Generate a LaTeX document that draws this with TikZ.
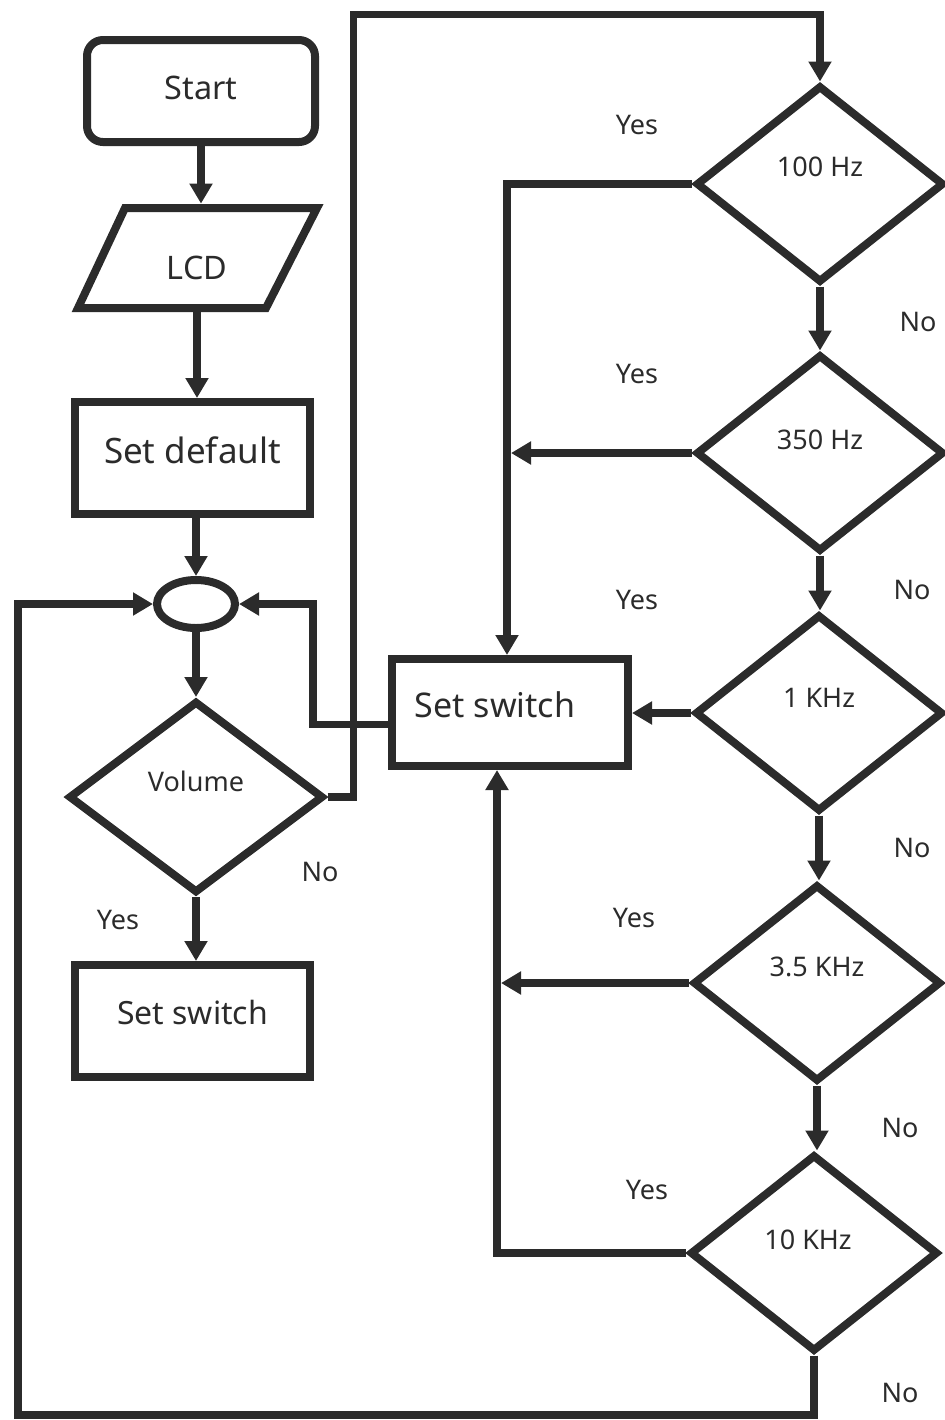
\documentclass[tikz,border=0pt]{standalone}
\usepackage{fontspec}
\setmainfont{Noto Sans}
\usetikzlibrary{shapes.geometric,arrows.meta,calc}
\definecolor{ink}{HTML}{2B2B2B}
\newcommand\liftt[2]{\raisebox{#1}[\height][\depth]{#2}}
\begin{document}
\begin{tikzpicture}[x=0.5pt,y=-0.5pt,
  shp/.style={draw=ink, line width=4pt, text=ink, inner sep=0pt},
  box/.style={shp, rectangle, minimum width=117.5pt, minimum height=56pt, font=\fontsize{17pt}{20pt}\selectfont},
  dec/.style={shp, diamond, minimum width=124pt, minimum height=98.5pt, font=\fontsize{13.5pt}{16pt}\selectfont},
  conn/.style={draw=ink, line width=3.6pt, -{Triangle[width=11pt,length=10pt]}},
  lbl/.style={text=ink, font=\fontsize{13.5pt}{16pt}\selectfont, inner sep=0pt}]
\useasboundingbox (0,0) rectangle (945,1420);

% left column
\node[shp, rectangle, rounded corners=8pt, minimum width=114pt, minimum height=51pt,
      font=\fontsize{16.2pt}{19pt}\selectfont] (start) at (201,91) {\liftt{1.5pt}{Start}};
\node[text=ink, inner sep=0pt, minimum width=120pt, minimum height=54pt,
      font=\fontsize{16.2pt}{19pt}\selectfont] (lcd) at (197,258) {\liftt{-5pt}{LCD}};
\draw[draw=ink, line width=4pt] ($(lcd.center)+(-72,-50)$) -- ($(lcd.center)+(120,-50)$)
   -- ($(lcd.center)+(69,50)$) -- ($(lcd.center)+(-119,50)$) -- cycle;
\node[box, font=\fontsize{17.5pt}{20pt}\selectfont] (sd) at (192.5,458) {\liftt{4pt}{Set default}};
\node[shp, ellipse, minimum width=39pt, minimum height=24pt] (circ) at (196,604) {};
\node[dec, minimum width=127.5pt, minimum height=96pt] (vol) at (196,797) {\liftt{8pt}{Volume}};
\node[box, font=\fontsize{16pt}{19pt}\selectfont] (ss2) at (192.5,1021) {\liftt{4.5pt}{Set switch}};

% middle box
\node[box, minimum width=118pt, minimum height=53.5pt] (ss1) at (510,712.5) {\liftt{4pt}{Set switch}\hspace*{15pt}};

% right column
\node[dec] (f100) at (820,184) {\liftt{8.5pt}{100 Hz}};
\node[dec] (f350) at (820,453) {\liftt{6.5pt}{350 Hz}};
\node[dec] (f1k)  at (819,713) {\liftt{7.5pt}{1 KHz}};
\node[dec] (f35k) at (817,983) {\liftt{8pt}{3.5 KHz}};
\node[dec] (f10k) at (814,1253) {\liftt{6.5pt}{10 KHz}\hspace*{6pt}};

% labels
\node[lbl] (y1) at (637,125) {Yes};
\node[lbl] (n1) at (918,322) {No};
\node[lbl] (y2) at (637,374) {Yes};
\node[lbl] (n2) at (912,590) {No};
\node[lbl] (y3) at (637,600) {Yes};
\node[lbl] (n3) at (912,848) {No};
\node[lbl] (y4) at (634,918) {Yes};
\node[lbl] (n4) at (900,1128) {No};
\node[lbl] (y5) at (647,1190) {Yes};
\node[lbl] (n5) at (900,1393) {No};
\node[lbl] (nv) at (320,872) {No};
\node[lbl] (yv) at (118,920) {Yes};

% left column connectors
\draw[conn] (start.south) -- (start.south |- lcd.north);
\draw[conn] (lcd.south) -- (lcd.south |- sd.north);
\draw[conn] (circ |- sd.south) -- (circ.north);
\draw[conn] (circ.south) -- (vol.north);
\draw[conn] (vol.south) -- (vol.south |- ss2.north);

% Volume No -> 100 Hz
\draw[conn] (vol.east) -- ++(26,0) |- ($(f100.north)+(0,-67)$) -- (f100.north);

% right column No chain
\draw[conn] (f100.south) -- (f100.south |- f350.north);
\draw[conn] (f350.south) -- (f350.south |- f1k.north);
\draw[conn] (f1k.south) -- (f1k.south |- f35k.north);
\draw[conn] (f35k.south) -- (f35k.south |- f10k.north);

% Yes branches into Set switch
\coordinate (upin) at ($(ss1.south)+(-13,0)$);
\draw[conn] (f100.west) -| ($(ss1.north)+(-3,0)$);
\draw[conn] (f350.west) -- ($(f350.west -| ss1.north)+(1,0)$);
\draw[conn] (f1k.west) -- (f1k.west -| ss1.east);
\draw[conn] (f35k.west) -- ($(f35k.west -| upin)+(4,0)$);
\draw[conn] (f10k.west) -| (upin);

% Set switch back to circle
\draw[conn] ($(ss1.west)+(0,12)$) -- ++(-75,0) |- (circ.east);

% 10 KHz No loop back to circle
\draw[conn] (f10k.south) |- (18,1415) |- (circ.west);
\end{tikzpicture}
\end{document}
